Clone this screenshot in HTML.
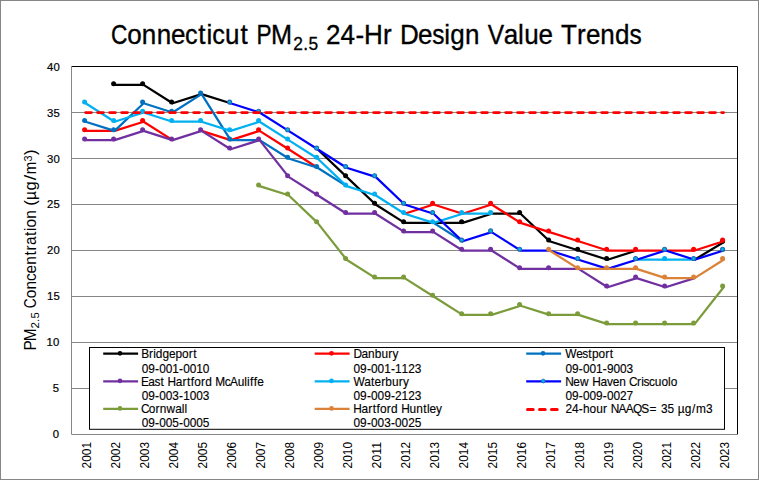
<!DOCTYPE html>
<html><head><meta charset="utf-8"><title>Connecticut PM2.5 24-Hr Design Value Trends</title>
<style>html,body{margin:0;padding:0;background:#fff;overflow:hidden}svg{display:block}text{font-family:"Liberation Sans",sans-serif;fill:#000;white-space:pre}</style></head><body>
<svg width="759" height="480" viewBox="0 0 759 480">
<rect x="0" y="0" width="759" height="480" fill="#fff"/>
<rect x="0.5" y="0.5" width="758" height="479" fill="none" stroke="#868686" stroke-width="1"/>
<line x1="71" y1="112.5" x2="738" y2="112.5" stroke="#868686" stroke-width="1"/>
<line x1="71" y1="158.5" x2="738" y2="158.5" stroke="#868686" stroke-width="1"/>
<line x1="71" y1="204.5" x2="738" y2="204.5" stroke="#868686" stroke-width="1"/>
<line x1="71" y1="250.5" x2="738" y2="250.5" stroke="#868686" stroke-width="1"/>
<line x1="71" y1="296.5" x2="738" y2="296.5" stroke="#868686" stroke-width="1"/>
<line x1="71" y1="342.5" x2="738" y2="342.5" stroke="#868686" stroke-width="1"/>
<line x1="71" y1="388.5" x2="738" y2="388.5" stroke="#868686" stroke-width="1"/>
<path d="M71 66.5 H737.5 V435" fill="none" stroke="#000" stroke-width="1"/>
<path d="M71.5 66 V434.5 H738" fill="none" stroke="#868686" stroke-width="1"/>
<text x="46.93" y="71.10" font-size="11.3" letter-spacing="0.4" stroke="#000" stroke-width="0.2">40</text>
<text x="46.93" y="117.10" font-size="11.3" letter-spacing="0.4" stroke="#000" stroke-width="0.2">35</text>
<text x="46.93" y="163.10" font-size="11.3" letter-spacing="0.4" stroke="#000" stroke-width="0.2">30</text>
<text x="46.93" y="208.20" font-size="11.3" letter-spacing="0.4" stroke="#000" stroke-width="0.2">25</text>
<text x="46.93" y="254.20" font-size="11.3" letter-spacing="0.4" stroke="#000" stroke-width="0.2">20</text>
<text x="46.93" y="300.20" font-size="11.3" letter-spacing="0.4" stroke="#000" stroke-width="0.2">15</text>
<text x="46.43" y="346.20" font-size="11.3" letter-spacing="0.4" stroke="#000" stroke-width="0.2">10</text>
<text x="52.72" y="392.20" font-size="11.3" letter-spacing="0.4" stroke="#000" stroke-width="0.2">5</text>
<text x="52.72" y="438.20" font-size="11.3" letter-spacing="0.4" stroke="#000" stroke-width="0.2">0</text>
<text transform="translate(91.20 468.4) rotate(-90)" font-size="12.5" textLength="26.4" lengthAdjust="spacingAndGlyphs">2001</text>
<text transform="translate(120.20 468.4) rotate(-90)" font-size="12.5" textLength="26.4" lengthAdjust="spacingAndGlyphs">2002</text>
<text transform="translate(149.20 468.4) rotate(-90)" font-size="12.5" textLength="26.4" lengthAdjust="spacingAndGlyphs">2003</text>
<text transform="translate(178.20 468.4) rotate(-90)" font-size="12.5" textLength="26.4" lengthAdjust="spacingAndGlyphs">2004</text>
<text transform="translate(207.20 468.4) rotate(-90)" font-size="12.5" textLength="26.4" lengthAdjust="spacingAndGlyphs">2005</text>
<text transform="translate(236.20 468.4) rotate(-90)" font-size="12.5" textLength="26.4" lengthAdjust="spacingAndGlyphs">2006</text>
<text transform="translate(265.20 468.4) rotate(-90)" font-size="12.5" textLength="26.4" lengthAdjust="spacingAndGlyphs">2007</text>
<text transform="translate(294.20 468.4) rotate(-90)" font-size="12.5" textLength="26.4" lengthAdjust="spacingAndGlyphs">2008</text>
<text transform="translate(323.20 468.4) rotate(-90)" font-size="12.5" textLength="26.4" lengthAdjust="spacingAndGlyphs">2009</text>
<text transform="translate(352.20 468.4) rotate(-90)" font-size="12.5" textLength="26.4" lengthAdjust="spacingAndGlyphs">2010</text>
<text transform="translate(381.20 468.4) rotate(-90)" font-size="12.5" textLength="26.4" lengthAdjust="spacingAndGlyphs">2011</text>
<text transform="translate(410.20 468.4) rotate(-90)" font-size="12.5" textLength="26.4" lengthAdjust="spacingAndGlyphs">2012</text>
<text transform="translate(439.20 468.4) rotate(-90)" font-size="12.5" textLength="26.4" lengthAdjust="spacingAndGlyphs">2013</text>
<text transform="translate(468.20 468.4) rotate(-90)" font-size="12.5" textLength="26.4" lengthAdjust="spacingAndGlyphs">2014</text>
<text transform="translate(497.20 468.4) rotate(-90)" font-size="12.5" textLength="26.4" lengthAdjust="spacingAndGlyphs">2015</text>
<text transform="translate(526.20 468.4) rotate(-90)" font-size="12.5" textLength="26.4" lengthAdjust="spacingAndGlyphs">2016</text>
<text transform="translate(555.20 468.4) rotate(-90)" font-size="12.5" textLength="26.4" lengthAdjust="spacingAndGlyphs">2017</text>
<text transform="translate(584.20 468.4) rotate(-90)" font-size="12.5" textLength="26.4" lengthAdjust="spacingAndGlyphs">2018</text>
<text transform="translate(613.20 468.4) rotate(-90)" font-size="12.5" textLength="26.4" lengthAdjust="spacingAndGlyphs">2019</text>
<text transform="translate(642.20 468.4) rotate(-90)" font-size="12.5" textLength="26.4" lengthAdjust="spacingAndGlyphs">2020</text>
<text transform="translate(671.20 468.4) rotate(-90)" font-size="12.5" textLength="26.4" lengthAdjust="spacingAndGlyphs">2021</text>
<text transform="translate(700.20 468.4) rotate(-90)" font-size="12.5" textLength="26.4" lengthAdjust="spacingAndGlyphs">2022</text>
<text transform="translate(729.20 468.4) rotate(-90)" font-size="12.5" textLength="26.4" lengthAdjust="spacingAndGlyphs">2023</text>
<polyline points="114.60,84.90 143.60,84.90 172.60,103.30 201.60,94.10 230.60,103.30" fill="none" stroke="#000000" stroke-width="2.25" stroke-linejoin="round" stroke-linecap="round"/>
<polyline points="317.60,149.30 346.60,176.90 375.60,204.50 404.60,222.90 433.60,222.90 462.60,222.90 491.60,213.70 520.60,213.70 549.60,241.30 578.60,250.50 607.60,259.70 636.60,250.50" fill="none" stroke="#000000" stroke-width="2.25" stroke-linejoin="round" stroke-linecap="round"/>
<polyline points="694.60,259.70 723.60,242.22" fill="none" stroke="#000000" stroke-width="2.25" stroke-linejoin="round" stroke-linecap="round"/>
<circle cx="113.60" cy="83.70" r="2.5" fill="#000000"/>
<circle cx="142.60" cy="83.70" r="2.5" fill="#000000"/>
<circle cx="171.60" cy="102.10" r="2.5" fill="#000000"/>
<circle cx="345.60" cy="175.70" r="2.5" fill="#000000"/>
<circle cx="374.60" cy="203.30" r="2.5" fill="#000000"/>
<circle cx="403.60" cy="221.70" r="2.5" fill="#000000"/>
<circle cx="461.60" cy="221.70" r="2.5" fill="#000000"/>
<circle cx="519.60" cy="212.50" r="2.5" fill="#000000"/>
<circle cx="548.60" cy="240.10" r="2.5" fill="#000000"/>
<circle cx="577.60" cy="249.30" r="2.5" fill="#000000"/>
<circle cx="606.60" cy="258.50" r="2.5" fill="#000000"/>
<circle cx="722.60" cy="241.02" r="2.5" fill="#000000"/>
<polyline points="85.60,130.90 114.60,130.90 143.60,121.70 172.60,140.10" fill="none" stroke="#FF0000" stroke-width="2.25" stroke-linejoin="round" stroke-linecap="round"/>
<polyline points="201.60,130.90 230.60,140.10 259.60,130.90 288.60,149.30 317.60,167.70" fill="none" stroke="#FF0000" stroke-width="2.25" stroke-linejoin="round" stroke-linecap="round"/>
<polyline points="404.60,213.70 433.60,204.50 462.60,213.70 491.60,204.50 520.60,222.90 549.60,232.10 578.60,241.30 607.60,250.50 636.60,250.50 665.60,250.50 694.60,250.50 723.60,241.30" fill="none" stroke="#FF0000" stroke-width="2.25" stroke-linejoin="round" stroke-linecap="round"/>
<circle cx="84.60" cy="129.70" r="2.5" fill="#FF0000"/>
<circle cx="142.60" cy="120.50" r="2.5" fill="#FF0000"/>
<circle cx="258.60" cy="129.70" r="2.5" fill="#FF0000"/>
<circle cx="287.60" cy="148.10" r="2.5" fill="#FF0000"/>
<circle cx="432.60" cy="203.30" r="2.5" fill="#FF0000"/>
<circle cx="490.60" cy="203.30" r="2.5" fill="#FF0000"/>
<circle cx="519.60" cy="221.70" r="2.5" fill="#FF0000"/>
<circle cx="548.60" cy="230.90" r="2.5" fill="#FF0000"/>
<circle cx="577.60" cy="240.10" r="2.5" fill="#FF0000"/>
<circle cx="606.60" cy="249.30" r="2.5" fill="#FF0000"/>
<circle cx="635.60" cy="249.30" r="2.5" fill="#FF0000"/>
<circle cx="693.60" cy="249.30" r="2.5" fill="#FF0000"/>
<circle cx="722.60" cy="240.10" r="2.5" fill="#FF0000"/>
<polyline points="85.60,121.70 114.60,130.90 143.60,103.30 172.60,112.50 201.60,94.10 230.60,140.10 259.60,140.10 288.60,158.50 317.60,167.70 346.60,186.10" fill="none" stroke="#0070C0" stroke-width="2.25" stroke-linejoin="round" stroke-linecap="round"/>
<polyline points="433.60,222.90 462.60,241.30" fill="none" stroke="#0070C0" stroke-width="2.25" stroke-linejoin="round" stroke-linecap="round"/>
<circle cx="84.60" cy="120.50" r="2.5" fill="#0070C0"/>
<circle cx="113.60" cy="129.70" r="2.5" fill="#0070C0"/>
<circle cx="142.60" cy="102.10" r="2.5" fill="#0070C0"/>
<circle cx="171.60" cy="111.30" r="2.5" fill="#0070C0"/>
<circle cx="200.60" cy="92.90" r="2.5" fill="#0070C0"/>
<circle cx="229.60" cy="138.90" r="2.5" fill="#0070C0"/>
<circle cx="287.60" cy="157.30" r="2.5" fill="#0070C0"/>
<circle cx="316.60" cy="166.50" r="2.5" fill="#0070C0"/>
<polyline points="85.60,140.10 114.60,140.10 143.60,130.90 172.60,140.10 201.60,130.90 230.60,149.30 259.60,140.10 288.60,176.90 317.60,195.30 346.60,213.70 375.60,213.70 404.60,232.10 433.60,232.10 462.60,250.50 491.60,250.50 520.60,268.90 549.60,268.90 578.60,268.90 607.60,287.30 636.60,278.10 665.60,287.30 694.60,278.10" fill="none" stroke="#7030A0" stroke-width="2.25" stroke-linejoin="round" stroke-linecap="round"/>
<circle cx="84.60" cy="138.90" r="2.5" fill="#7030A0"/>
<circle cx="113.60" cy="138.90" r="2.5" fill="#7030A0"/>
<circle cx="142.60" cy="129.70" r="2.5" fill="#7030A0"/>
<circle cx="171.60" cy="138.90" r="2.5" fill="#7030A0"/>
<circle cx="200.60" cy="129.70" r="2.5" fill="#7030A0"/>
<circle cx="229.60" cy="148.10" r="2.5" fill="#7030A0"/>
<circle cx="258.60" cy="138.90" r="2.5" fill="#7030A0"/>
<circle cx="287.60" cy="175.70" r="2.5" fill="#7030A0"/>
<circle cx="316.60" cy="194.10" r="2.5" fill="#7030A0"/>
<circle cx="345.60" cy="212.50" r="2.5" fill="#7030A0"/>
<circle cx="374.60" cy="212.50" r="2.5" fill="#7030A0"/>
<circle cx="403.60" cy="230.90" r="2.5" fill="#7030A0"/>
<circle cx="432.60" cy="230.90" r="2.5" fill="#7030A0"/>
<circle cx="461.60" cy="249.30" r="2.5" fill="#7030A0"/>
<circle cx="490.60" cy="249.30" r="2.5" fill="#7030A0"/>
<circle cx="519.60" cy="267.70" r="2.5" fill="#7030A0"/>
<circle cx="548.60" cy="267.70" r="2.5" fill="#7030A0"/>
<circle cx="606.60" cy="286.10" r="2.5" fill="#7030A0"/>
<circle cx="635.60" cy="276.90" r="2.5" fill="#7030A0"/>
<circle cx="664.60" cy="286.10" r="2.5" fill="#7030A0"/>
<polyline points="85.60,103.30 114.60,121.70 143.60,112.50 172.60,121.70 201.60,121.70 230.60,130.90 259.60,121.70 288.60,140.10 317.60,158.50 346.60,186.10 375.60,195.30 404.60,213.70 433.60,222.90 462.60,213.70 491.60,213.70" fill="none" stroke="#00B0F0" stroke-width="2.25" stroke-linejoin="round" stroke-linecap="round"/>
<polyline points="636.60,259.70 665.60,259.70 694.60,259.70" fill="none" stroke="#00B0F0" stroke-width="2.25" stroke-linejoin="round" stroke-linecap="round"/>
<circle cx="84.60" cy="102.10" r="2.5" fill="#00B0F0"/>
<circle cx="113.60" cy="120.50" r="2.5" fill="#00B0F0"/>
<circle cx="142.60" cy="111.30" r="2.5" fill="#00B0F0"/>
<circle cx="171.60" cy="120.50" r="2.5" fill="#00B0F0"/>
<circle cx="200.60" cy="120.50" r="2.5" fill="#00B0F0"/>
<circle cx="229.60" cy="129.70" r="2.5" fill="#00B0F0"/>
<circle cx="258.60" cy="120.50" r="2.5" fill="#00B0F0"/>
<circle cx="287.60" cy="138.90" r="2.5" fill="#00B0F0"/>
<circle cx="316.60" cy="157.30" r="2.5" fill="#00B0F0"/>
<circle cx="345.60" cy="184.90" r="2.5" fill="#00B0F0"/>
<circle cx="374.60" cy="194.10" r="2.5" fill="#00B0F0"/>
<circle cx="403.60" cy="212.50" r="2.5" fill="#00B0F0"/>
<circle cx="432.60" cy="221.70" r="2.5" fill="#00B0F0"/>
<circle cx="461.60" cy="212.50" r="2.5" fill="#00B0F0"/>
<circle cx="490.60" cy="212.50" r="2.5" fill="#00B0F0"/>
<circle cx="664.60" cy="258.50" r="2.5" fill="#00B0F0"/>
<polyline points="230.60,103.30 259.60,112.50 288.60,130.90 317.60,149.30 346.60,167.70 375.60,176.90 404.60,204.50 433.60,213.70 462.60,241.30 491.60,232.10 520.60,250.50 549.60,250.50 578.60,259.70 607.60,268.90 636.60,259.70 665.60,250.50 694.60,259.70 723.60,250.50" fill="none" stroke="#0000FF" stroke-width="2.25" stroke-linejoin="round" stroke-linecap="round"/>
<circle cx="229.60" cy="102.10" r="2.0" fill="#00B0F0" stroke="#2068B0" stroke-width="1.1"/>
<circle cx="258.60" cy="111.30" r="2.0" fill="#00B0F0" stroke="#2068B0" stroke-width="1.1"/>
<circle cx="287.60" cy="129.70" r="2.0" fill="#00B0F0" stroke="#2068B0" stroke-width="1.1"/>
<circle cx="316.60" cy="148.10" r="2.0" fill="#00B0F0" stroke="#2068B0" stroke-width="1.1"/>
<circle cx="345.60" cy="166.50" r="2.0" fill="#00B0F0" stroke="#2068B0" stroke-width="1.1"/>
<circle cx="374.60" cy="175.70" r="2.0" fill="#00B0F0" stroke="#2068B0" stroke-width="1.1"/>
<circle cx="403.60" cy="203.30" r="2.0" fill="#00B0F0" stroke="#2068B0" stroke-width="1.1"/>
<circle cx="432.60" cy="212.50" r="2.0" fill="#00B0F0" stroke="#2068B0" stroke-width="1.1"/>
<circle cx="461.60" cy="240.10" r="2.0" fill="#00B0F0" stroke="#2068B0" stroke-width="1.1"/>
<circle cx="490.60" cy="230.90" r="2.0" fill="#00B0F0" stroke="#2068B0" stroke-width="1.1"/>
<circle cx="519.60" cy="249.30" r="2.0" fill="#00B0F0" stroke="#2068B0" stroke-width="1.1"/>
<circle cx="577.60" cy="258.50" r="2.0" fill="#00B0F0" stroke="#2068B0" stroke-width="1.1"/>
<circle cx="635.60" cy="258.50" r="2.0" fill="#00B0F0" stroke="#2068B0" stroke-width="1.1"/>
<circle cx="664.60" cy="249.30" r="2.0" fill="#00B0F0" stroke="#2068B0" stroke-width="1.1"/>
<circle cx="693.60" cy="258.50" r="2.0" fill="#00B0F0" stroke="#2068B0" stroke-width="1.1"/>
<circle cx="722.60" cy="249.30" r="2.0" fill="#00B0F0" stroke="#2068B0" stroke-width="1.1"/>
<polyline points="259.60,186.10 288.60,195.30 317.60,222.90 346.60,259.70 375.60,278.10 404.60,278.10 433.60,296.50 462.60,314.90 491.60,314.90 520.60,305.70 549.60,314.90 578.60,314.90 607.60,324.10 636.60,324.10 665.60,324.10 694.60,324.10 723.60,287.30" fill="none" stroke="#7C9C3C" stroke-width="2.25" stroke-linejoin="round" stroke-linecap="round"/>
<circle cx="258.60" cy="184.90" r="2.5" fill="#7C9C3C"/>
<circle cx="287.60" cy="194.10" r="2.5" fill="#7C9C3C"/>
<circle cx="316.60" cy="221.70" r="2.5" fill="#7C9C3C"/>
<circle cx="345.60" cy="258.50" r="2.5" fill="#7C9C3C"/>
<circle cx="374.60" cy="276.90" r="2.5" fill="#7C9C3C"/>
<circle cx="403.60" cy="276.90" r="2.5" fill="#7C9C3C"/>
<circle cx="432.60" cy="295.30" r="2.5" fill="#7C9C3C"/>
<circle cx="461.60" cy="313.70" r="2.5" fill="#7C9C3C"/>
<circle cx="490.60" cy="313.70" r="2.5" fill="#7C9C3C"/>
<circle cx="519.60" cy="304.50" r="2.5" fill="#7C9C3C"/>
<circle cx="548.60" cy="313.70" r="2.5" fill="#7C9C3C"/>
<circle cx="577.60" cy="313.70" r="2.5" fill="#7C9C3C"/>
<circle cx="606.60" cy="322.90" r="2.5" fill="#7C9C3C"/>
<circle cx="635.60" cy="322.90" r="2.5" fill="#7C9C3C"/>
<circle cx="664.60" cy="322.90" r="2.5" fill="#7C9C3C"/>
<circle cx="693.60" cy="322.90" r="2.5" fill="#7C9C3C"/>
<circle cx="722.60" cy="286.10" r="2.5" fill="#7C9C3C"/>
<polyline points="549.60,250.50 578.60,268.90 607.60,268.90 636.60,268.90 665.60,278.10 694.60,278.10 723.60,259.70" fill="none" stroke="#DB8238" stroke-width="2.25" stroke-linejoin="round" stroke-linecap="round"/>
<circle cx="548.60" cy="249.30" r="2.5" fill="#DB8238"/>
<circle cx="577.60" cy="267.70" r="2.5" fill="#DB8238"/>
<circle cx="606.60" cy="267.70" r="2.5" fill="#DB8238"/>
<circle cx="635.60" cy="267.70" r="2.5" fill="#DB8238"/>
<circle cx="664.60" cy="276.90" r="2.5" fill="#DB8238"/>
<circle cx="693.60" cy="276.90" r="2.5" fill="#DB8238"/>
<circle cx="722.60" cy="258.50" r="2.5" fill="#DB8238"/>
<line x1="85.6" y1="112.5" x2="723.6" y2="112.5" stroke="#FF0000" stroke-width="2.75" stroke-dasharray="5.85 6.15" stroke-linecap="round"/>
<rect x="89.5" y="347.5" width="635" height="81.8" fill="#fff" stroke="#000" stroke-width="1"/>
<line x1="103.2" y1="353.7" x2="138.1" y2="353.7" stroke="#000000" stroke-width="2.25"/>
<circle cx="120.0" cy="353.3" r="2.35" fill="#000000"/>
<text transform="translate(141.70 357.90) scale(0.95 1)" x="-0.45 7.63 12.05 14.90 21.88 28.70 35.51 42.43 49.53 54.26" y="0" font-size="12.5" stroke="#000" stroke-width="0.15">Bridgeport</text>
<text transform="translate(141.70 372.60) scale(0.95 1)" x="-0.03 6.87 14.01 18.35 25.25 32.15 39.28 43.63 50.52 57.42 64.32" y="0" font-size="12.5" stroke="#000" stroke-width="0.15">09-001-0010</text>
<line x1="314.7" y1="353.7" x2="349.59999999999997" y2="353.7" stroke="#FF0000" stroke-width="2.25"/>
<circle cx="331.5" cy="353.3" r="2.35" fill="#FF0000"/>
<text transform="translate(353.60 357.90) scale(0.95 1)" x="-0.23 8.40 15.24 22.26 29.28 36.47 40.85" y="0" font-size="12.5" stroke="#000" stroke-width="0.15">Danbury</text>
<text transform="translate(353.60 372.60) scale(0.95 1)" x="-0.03 6.87 14.01 18.35 25.25 32.15 39.28 43.63 50.52 57.42 64.32" y="0" font-size="12.5" stroke="#000" stroke-width="0.15">09-001-1123</text>
<line x1="526.2" y1="353.7" x2="561.1" y2="353.7" stroke="#0070C0" stroke-width="2.25"/>
<circle cx="543.0" cy="353.3" r="2.35" fill="#0070C0"/>
<text transform="translate(565.50 357.90) scale(0.95 1)" x="-0.20 11.24 17.73 24.04 27.91 34.83 41.93 46.66" y="0" font-size="12.5" stroke="#000" stroke-width="0.15">Westport</text>
<text transform="translate(565.50 372.60) scale(0.95 1)" x="-0.03 6.87 14.01 18.35 25.25 32.15 39.28 43.63 50.52 57.42 64.32" y="0" font-size="12.5" stroke="#000" stroke-width="0.15">09-001-9003</text>
<line x1="103.2" y1="381.25" x2="138.1" y2="381.25" stroke="#7030A0" stroke-width="2.25"/>
<circle cx="120.0" cy="380.85" r="2.35" fill="#7030A0"/>
<text transform="translate(141.70 385.60) scale(0.95 1)" x="-0.63 6.93 13.41 19.72 23.81 27.27 35.89 42.87 47.60 51.72 55.42 62.52 66.89 74.10 77.47 87.34 92.99 101.00 108.06 110.95 114.06 118.07 121.67" y="0" font-size="12.5" stroke="#000" stroke-width="0.15">East Hartford McAuliffe</text>
<text transform="translate(141.70 399.60) scale(0.95 1)" x="-0.03 6.87 14.01 18.35 25.25 32.15 39.28 43.63 50.52 57.42 64.32" y="0" font-size="12.5" stroke="#000" stroke-width="0.15">09-003-1003</text>
<line x1="314.7" y1="381.25" x2="349.59999999999997" y2="381.25" stroke="#00B0F0" stroke-width="2.25"/>
<circle cx="331.5" cy="380.85" r="2.35" fill="#00B0F0"/>
<text transform="translate(353.60 385.60) scale(0.95 1)" x="-0.20 11.23 18.40 22.09 29.08 33.45 40.47 47.66 52.04" y="0" font-size="12.5" stroke="#000" stroke-width="0.15">Waterbury</text>
<text transform="translate(353.60 399.60) scale(0.95 1)" x="-0.03 6.87 14.01 18.35 25.25 32.15 39.28 43.63 50.52 57.42 64.32" y="0" font-size="12.5" stroke="#000" stroke-width="0.15">09-009-2123</text>
<line x1="526.2" y1="381.25" x2="561.1" y2="381.25" stroke="#0000FF" stroke-width="2.25"/>
<circle cx="543.3000000000001" cy="381.05" r="1.9" fill="#00B0F0" stroke="#2068B0" stroke-width="0.8"/>
<text transform="translate(565.50 385.60) scale(0.95 1)" x="-0.30 8.27 15.24 24.68 28.15 36.76 43.57 49.69 56.54 63.78 66.77 75.27 79.69 82.21 87.94 94.03 100.98 107.94 110.73" y="0" font-size="12.5" stroke="#000" stroke-width="0.15">New Haven Criscuolo</text>
<text transform="translate(565.50 399.60) scale(0.95 1)" x="-0.03 6.87 14.01 18.35 25.25 32.15 39.28 43.63 50.52 57.42 64.32" y="0" font-size="12.5" stroke="#000" stroke-width="0.15">09-009-0027</text>
<line x1="103.2" y1="408.8" x2="138.1" y2="408.8" stroke="#7C9C3C" stroke-width="2.25"/>
<circle cx="120.0" cy="408.40000000000003" r="2.35" fill="#7C9C3C"/>
<text transform="translate(141.70 413.10) scale(0.95 1)" x="-0.72 7.55 14.64 19.05 26.22 35.26 42.11 45.00" y="0" font-size="12.5" stroke="#000" stroke-width="0.15">Cornwall</text>
<text transform="translate(141.70 427.30) scale(0.95 1)" x="-0.03 6.87 14.01 18.35 25.25 32.15 39.28 43.63 50.52 57.42 64.32" y="0" font-size="12.5" stroke="#000" stroke-width="0.15">09-005-0005</text>
<line x1="314.7" y1="408.8" x2="349.59999999999997" y2="408.8" stroke="#DB8238" stroke-width="2.25"/>
<circle cx="331.5" cy="408.40000000000003" r="2.35" fill="#DB8238"/>
<text transform="translate(353.60 413.10) scale(0.95 1)" x="-0.25 8.37 15.35 20.08 24.20 27.89 34.99 39.36 46.57 50.04 58.86 65.91 73.28 77.19 79.87 86.69" y="0" font-size="12.5" stroke="#000" stroke-width="0.15">Hartford Huntley</text>
<text transform="translate(353.60 427.30) scale(0.95 1)" x="-0.03 6.87 14.01 18.35 25.25 32.15 39.28 43.63 50.52 57.42 64.32" y="0" font-size="12.5" stroke="#000" stroke-width="0.15">09-003-0025</text>
<line x1="527.5" y1="409.40000000000003" x2="559.2" y2="409.40000000000003" stroke="#FF0000" stroke-width="3.0" stroke-dasharray="5.7 6.3" stroke-linecap="round"/>
<text transform="translate(565.50 413.10) scale(0.95 1)" x="-0.03 6.87 14.01 18.43 25.38 32.33 39.53 44.12 47.53 55.88 63.46 71.03 79.71 88.35 96.83 100.52 107.42 114.58 118.28 125.49 133.13 137.38 147.86" y="0" font-size="12.5" stroke="#000" stroke-width="0.15">24-hour NAAQS= 35 µg/m3</text>
<text transform="translate(111.30 44.00) scale(0.813 1)" x="-0.29" y="0" font-size="28" stroke="#000" stroke-width="0.35">C</text>
<text transform="translate(111.30 44.00) scale(0.93 1)" x="17.13 32.86 48.80 64.28" y="0" font-size="28" stroke="#000" stroke-width="0.35">onne</text>
<text transform="translate(111.30 44.00) scale(0.901 1)" x="81.93" y="0" font-size="28" stroke="#000" stroke-width="0.35">c</text>
<text transform="translate(111.30 44.00) scale(0.93 1)" x="93.62 102.44" y="0" font-size="28" stroke="#000" stroke-width="0.35">ti</text>
<text transform="translate(111.30 44.00) scale(0.901 1)" x="112.12" y="0" font-size="28" stroke="#000" stroke-width="0.35">c</text>
<text transform="translate(111.30 44.00) scale(0.93 1)" x="122.17 138.81 148.05" y="0" font-size="28" stroke="#000" stroke-width="0.35">ut </text>
<text transform="translate(111.30 44.00) scale(0.807 1)" x="179.98" y="0" font-size="28" stroke="#000" stroke-width="0.35">P</text>
<text transform="translate(111.30 44.00) scale(0.904 1)" x="176.76" y="0" font-size="28" stroke="#000" stroke-width="0.35">M</text>
<text transform="translate(293.08 49.90) scale(0.93 1)" x="0.08 10.90 16.52" y="0" font-size="18.7" stroke="#000" stroke-width="0.3">2.5</text>
<text transform="translate(317.59 44.00) scale(0.93 1)" x="0.58 8.95 24.55 40.65 50.03 70.26 80.64 88.57 108.09" y="0" font-size="28" stroke="#000" stroke-width="0.35"> 24-Hr De</text>
<text transform="translate(317.59 44.00) scale(0.872 1)" x="131.39" y="0" font-size="28" stroke="#000" stroke-width="0.35">s</text>
<text transform="translate(317.59 44.00) scale(0.93 1)" x="136.29 142.78 158.65 174.98" y="0" font-size="28" stroke="#000" stroke-width="0.35">ign </text>
<text transform="translate(317.59 44.00) scale(0.875 1)" x="194.59" y="0" font-size="28" stroke="#000" stroke-width="0.35">V</text>
<text transform="translate(317.59 44.00) scale(0.93 1)" x="200.11 215.55 222.12 237.60 253.47 261.62 278.99 288.52 304.00 319.87" y="0" font-size="28" stroke="#000" stroke-width="0.35">alue Trend</text>
<text transform="translate(317.59 44.00) scale(0.872 1)" x="357.67" y="0" font-size="28" stroke="#000" stroke-width="0.35">s</text>
<g transform="translate(35.9 0) rotate(-90)">
<text transform="translate(-349.90 0.00) scale(0.95 1)" x="-0.76 9.03" y="0" font-size="16.2">PM</text>
<text transform="translate(-328.45 3.20) scale(1.05 1)" x="0.01 6.26 9.47" y="0" font-size="10.9">2.5</text>
<text transform="translate(-313.03 0.00) scale(0.95 1)" x="0.39" y="0" font-size="16.2"> </text>
<text transform="translate(-313.03 0.00) scale(0.847 1)" x="5.74" y="0" font-size="16.2">C</text>
<text transform="translate(-313.03 0.00) scale(0.95 1)" x="15.46 24.73 33.77 41.63 50.75 60.52 65.92 71.56 81.05 86.24 90.04 99.31" y="0" font-size="16.2">oncentration</text>
<text transform="translate(-205.72 0) scale(1.045 1)" x="0" y="0" font-size="16.2">(</text>
<text transform="translate(-200.03 0) scale(0.950 1)" x="0" y="0" font-size="16.2">µ</text>
<text transform="translate(-190.52 0) scale(1.026 1)" x="0" y="0" font-size="16.2">g</text>
<text transform="translate(-180.28 0) scale(1.235 1)" x="0" y="0" font-size="16.2">/</text>
<text transform="translate(-174.37 0) scale(0.921 1)" x="0" y="0" font-size="16.2">m</text>
<text transform="translate(-155.02 0) scale(1.045 1)" x="0" y="0" font-size="16.2">)</text>
<text transform="translate(-161.58 -4.3) scale(1.000 1)" x="0" y="0" font-size="10.9">3</text>
</g>
</svg></body></html>
